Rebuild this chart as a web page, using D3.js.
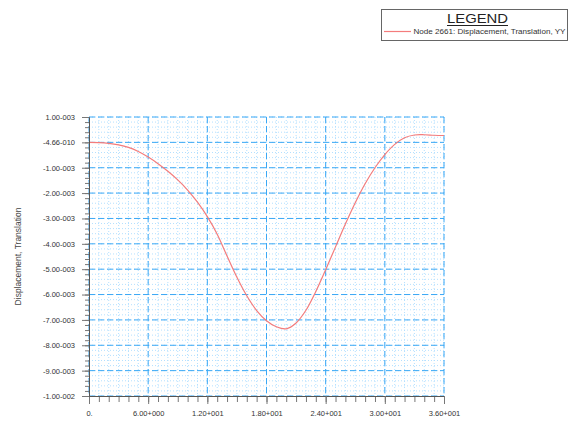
<!DOCTYPE html>
<html>
<head>
<meta charset="utf-8">
<script src="https://cdn.jsdelivr.net/npm/d3@7"></script>
<style>
  body { margin: 0; background: #fff; }
  svg { display: block; font-family: Arial, "Liberation Sans", sans-serif; }
</style>
</head>
<body>
<div id="chart"></div>
<script>
var width = 569, height = 428;

// time (s) and YY displacement of node 2661
var xValues = [0, 1, 2, 3, 4, 5, 6, 7, 8, 9, 10, 11, 12, 13, 14, 15, 16, 17, 18,
    19, 20, 21, 22, 23, 24, 25, 26, 27, 28, 29, 30, 31, 32, 33, 34, 35, 36];
var yValues = [0, -0.01e-3, -0.04e-3, -0.10e-3, -0.20e-3, -0.36e-3, -0.58e-3, -0.84e-3,
    -1.14e-3, -1.48e-3, -1.88e-3, -2.36e-3, -2.93e-3, -3.62e-3, -4.48e-3, -5.32e-3,
    -6.05e-3, -6.63e-3, -7.03e-3, -7.27e-3, -7.35e-3, -7.12e-3, -6.62e-3, -5.88e-3,
    -5.02e-3, -4.12e-3, -3.22e-3, -2.38e-3, -1.63e-3, -1.00e-3, -0.48e-3, -0.08e-3,
    0.18e-3, 0.29e-3, 0.30e-3, 0.28e-3, 0.27e-3];

var xTicks = [0, 6, 12, 18, 24, 30, 36];
var xTickLabels = ["0.", "6.00+000", "1.20+001", "1.80+001", "2.40+001", "3.00+001", "3.60+001"];
var yTicks = [1e-3, 0, -1e-3, -2e-3, -3e-3, -4e-3, -5e-3, -6e-3, -7e-3, -8e-3, -9e-3, -1e-2];
var yTickLabels = ["1.00-003", "-4.66-010", "-1.00-003", "-2.00-003", "-3.00-003", "-4.00-003",
    "-5.00-003", "-6.00-003", "-7.00-003", "-8.00-003", "-9.00-003", "-1.00-002"];
var seriesName = "Node 2661: Displacement, Translation, YY";
var yTitle = "Displacement, Translation";

var plot = {left: 89, right: 444, top: 117, bottom: 396};

var x = d3.scaleLinear().domain([0, 36]).range([plot.left, plot.right]);
var y = d3.scaleLinear().domain([-1e-2, 1e-3]).range([plot.bottom, plot.top]);

var xMinor = d3.range(0, 36.001, 1);
var yMinor = d3.range(0, 55.001, 1).map(function (i) { return -1e-2 + i * 0.2e-3; });

var svg = d3.select("#chart").append("svg")
    .attr("width", width)
    .attr("height", height);

//网格线 minor
var grid = svg.append("g");
grid.selectAll(".vminor").data(xMinor).enter().append("line")
    .attr("x1", function (d) { return x(d); })
    .attr("x2", function (d) { return x(d); })
    .attr("y1", plot.top).attr("y2", plot.bottom)
    .attr("stroke", "#b4e0ff").attr("stroke-width", 1)
    .attr("stroke-dasharray", "1,2");
grid.selectAll(".hminor").data(yMinor).enter().append("line")
    .attr("x1", plot.left).attr("x2", plot.right)
    .attr("y1", function (d) { return y(d); })
    .attr("y2", function (d) { return y(d); })
    .attr("stroke", "#b4e0ff").attr("stroke-width", 1)
    .attr("stroke-dasharray", "1,2");

//网格线 major
grid.selectAll(".vmajor").data(xTicks).enter().append("line")
    .attr("x1", function (d) { return x(d); })
    .attr("x2", function (d) { return x(d); })
    .attr("y1", plot.top).attr("y2", plot.bottom)
    .attr("stroke", "#3aa8f5").attr("stroke-width", 1)
    .attr("stroke-dasharray", "6,3");
grid.selectAll(".hmajor").data(yTicks).enter().append("line")
    .attr("x1", plot.left).attr("x2", plot.right)
    .attr("y1", function (d) { return y(d); })
    .attr("y2", function (d) { return y(d); })
    .attr("stroke", "#3aa8f5").attr("stroke-width", 1)
    .attr("stroke-dasharray", "6,3");

//曲线
var line = d3.line()
    .x(function (d, i) { return x(xValues[i]); })
    .y(function (d) { return y(d); })
    .curve(d3.curveCatmullRom);
svg.append("path")
    .datum(yValues)
    .attr("d", line)
    .attr("fill", "none")
    .attr("stroke", "#f47c7c")
    .attr("stroke-width", 1.2);

//坐标轴
var axisColor = "#555";
var xMinorAxis = svg.append("g")
    .attr("transform", "translate(0," + plot.bottom + ")")
    .call(d3.axisBottom(x).tickValues(xMinor).tickSize(6).tickFormat(""));
var xAxis = svg.append("g")
    .attr("transform", "translate(0," + plot.bottom + ")")
    .call(d3.axisBottom(x).tickValues(xTicks).tickSize(8).tickPadding(7)
        .tickFormat(function (d, i) { return xTickLabels[i]; }));
var yMinorAxis = svg.append("g")
    .attr("transform", "translate(" + plot.left + ",0)")
    .call(d3.axisLeft(y).tickValues(yMinor).tickSize(4).tickFormat(""));
var yAxis = svg.append("g")
    .attr("transform", "translate(" + plot.left + ",0)")
    .call(d3.axisLeft(y).tickValues(yTicks).tickSize(7).tickPadding(7)
        .tickFormat(function (d, i) { return yTickLabels[i]; }));

[xMinorAxis, xAxis, yMinorAxis, yAxis].forEach(function (g) {
    g.selectAll("path").attr("stroke", axisColor);
    g.selectAll("line").attr("stroke", "#777");
    g.selectAll("text")
        .attr("fill", "#333")
        .style("font-size", "7.5px")
        .style("font-family", "Arial, 'Liberation Sans', sans-serif");
});
xMinorAxis.select("path").remove();
yMinorAxis.select("path").remove();

svg.append("text")
    .attr("transform", "translate(21," + ((plot.top + plot.bottom) / 2) + ") rotate(-90)")
    .attr("text-anchor", "middle")
    .attr("fill", "#444")
    .style("font-size", "8.5px")
    .text(yTitle);

//图例
var legend = svg.append("g");
legend.append("rect")
    .attr("x", 381.5).attr("y", 9.5)
    .attr("width", 186).attr("height", 31)
    .attr("fill", "#fff")
    .attr("stroke", "#666");
legend.append("text")
    .attr("x", 477.5).attr("y", 23)
    .attr("text-anchor", "middle")
    .attr("fill", "#222")
    .attr("textLength", 61)
    .attr("lengthAdjust", "spacingAndGlyphs")
    .style("font-size", "12.5px")
    .text("LEGEND");
legend.append("line")
    .attr("x1", 447).attr("x2", 508)
    .attr("y1", 25.5).attr("y2", 25.5)
    .attr("stroke", "#222").attr("stroke-width", 1);
legend.append("line")
    .attr("x1", 384).attr("x2", 411)
    .attr("y1", 31.5).attr("y2", 31.5)
    .attr("stroke", "#f47c7c").attr("stroke-width", 1.2);
legend.append("text")
    .attr("x", 413.5).attr("y", 34)
    .attr("fill", "#333")
    .attr("textLength", 152)
    .attr("lengthAdjust", "spacingAndGlyphs")
    .style("font-size", "8px")
    .text(seriesName);
</script>
</body>
</html>
